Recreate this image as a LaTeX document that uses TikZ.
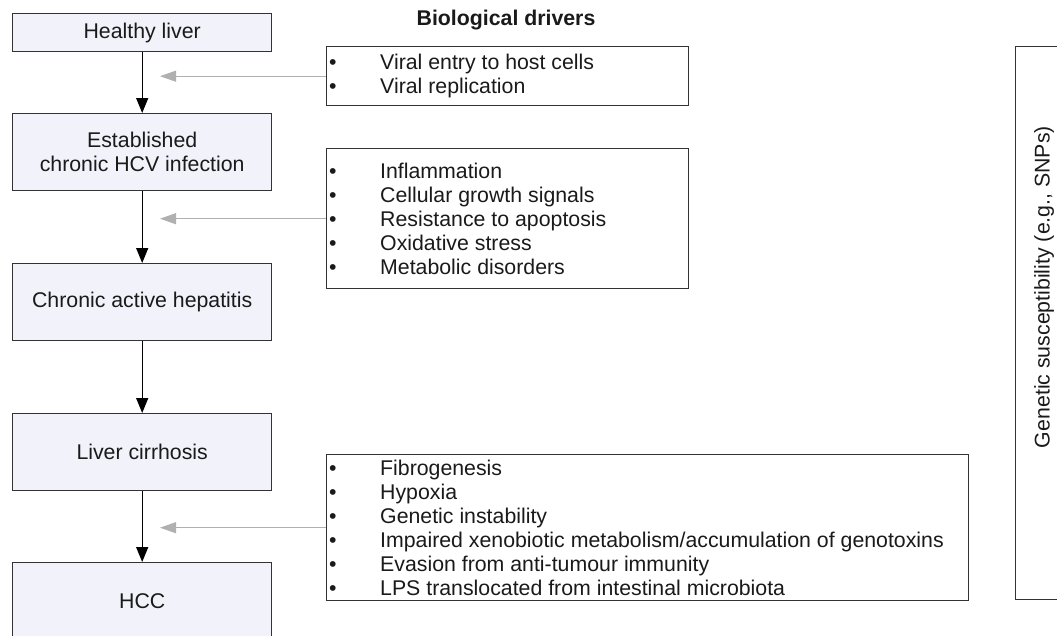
\documentclass[tikz,border=0pt]{standalone}
\usepackage{fontspec}
\setmainfont{Liberation Sans}
\usetikzlibrary{arrows.meta}
\definecolor{boxfill}{RGB}{242,242,250}
\definecolor{edgecol}{RGB}{51,51,51}
\definecolor{txtcol}{RGB}{26,26,26}
\definecolor{grayarr}{RGB}{176,176,176}
\newcommand{\bulitem}{\makebox[51pt][l]{\textbullet}}
\begin{document}
\begin{tikzpicture}[x=1pt,y=-1pt,
  every node/.style={font=\fontsize{21.3}{24}\selectfont, text=txtcol},
  stage/.style={draw=edgecol, line width=1.4pt, fill=boxfill, minimum width=259pt,
    minimum height=77pt, inner sep=0pt, align=center, anchor=north west},
  listbox/.style={draw=edgecol, line width=1.4pt, fill=white, inner sep=0pt, anchor=north west},
  listtext/.style={inner sep=0pt, anchor=west, align=left},
  blk/.style={draw=black, line width=1.3pt, -{Triangle[length=15pt,width=12pt]}},
  grayarrow/.style={draw=grayarr, line width=1.1pt, -{Triangle[length=16pt,width=11pt]}, color=grayarr}
]
\useasboundingbox (0,0) rectangle (1057,635);
\clip (0,0) rectangle (1057,635);

% stages
\node[stage, minimum height=38pt] (s1) at (12,13) {Healthy liver};
\node[stage] (s2) at (12,113) {Established\\chronic HCV infection};
\node[stage] (s3) at (12,263) {Chronic active hepatitis};
\node[stage] (s4) at (12,413) {Liver cirrhosis};
\node[stage] (s5) at (12,562) {HCC};

\draw[blk] (s1) -- (s2);
\draw[blk] (s2) -- (s3);
\draw[blk] (s3) -- (s4);
\draw[blk] (s4) -- (s5);

% title
\node[font=\fontsize{21.3}{24}\selectfont\bfseries] (title) at (506,20) {Biological drivers};

% driver boxes
\node[listbox, minimum width=362pt, minimum height=59pt] (d1) at (326,46) {};
\node[listbox, minimum width=362pt, minimum height=140pt] (d2) at (326,148) {};
\node[listbox, minimum width=642pt, minimum height=146pt] (d3) at (326,454) {};

\node[listtext] (t1) at ([xshift=3pt]d1.west) {\bulitem Viral entry to host cells\\ \bulitem Viral replication};
\node[listtext] (t2) at ([xshift=3pt]d2.west) {\bulitem Inflammation\\ \bulitem Cellular growth signals\\ \bulitem Resistance to apoptosis\\ \bulitem Oxidative stress\\ \bulitem Metabolic disorders};
\node[listtext] (t3) at ([xshift=3pt]d3.west) {\bulitem Fibrogenesis\\ \bulitem Hypoxia\\ \bulitem Genetic instability\\ \bulitem Impaired xenobiotic metabolism/accumulation of genotoxins\\ \bulitem Evasion from anti-tumour immunity\\ \bulitem LPS translocated from intestinal microbiota};

\coordinate (ax) at (160,0);
\draw[grayarrow] (d1.west) -- (d1.west -| ax);
\draw[grayarrow] (d2.west) -- (d2.west -| ax);
\draw[grayarrow] (d3.west) -- (d3.west -| ax);

% genetic susceptibility
\node[listbox, minimum width=120pt, minimum height=553pt] (g) at (1015,46) {};
\node[rotate=90] (gt) at (1044,287) {Genetic susceptibility (e.g., SNPs)};
\end{tikzpicture}
\end{document}
